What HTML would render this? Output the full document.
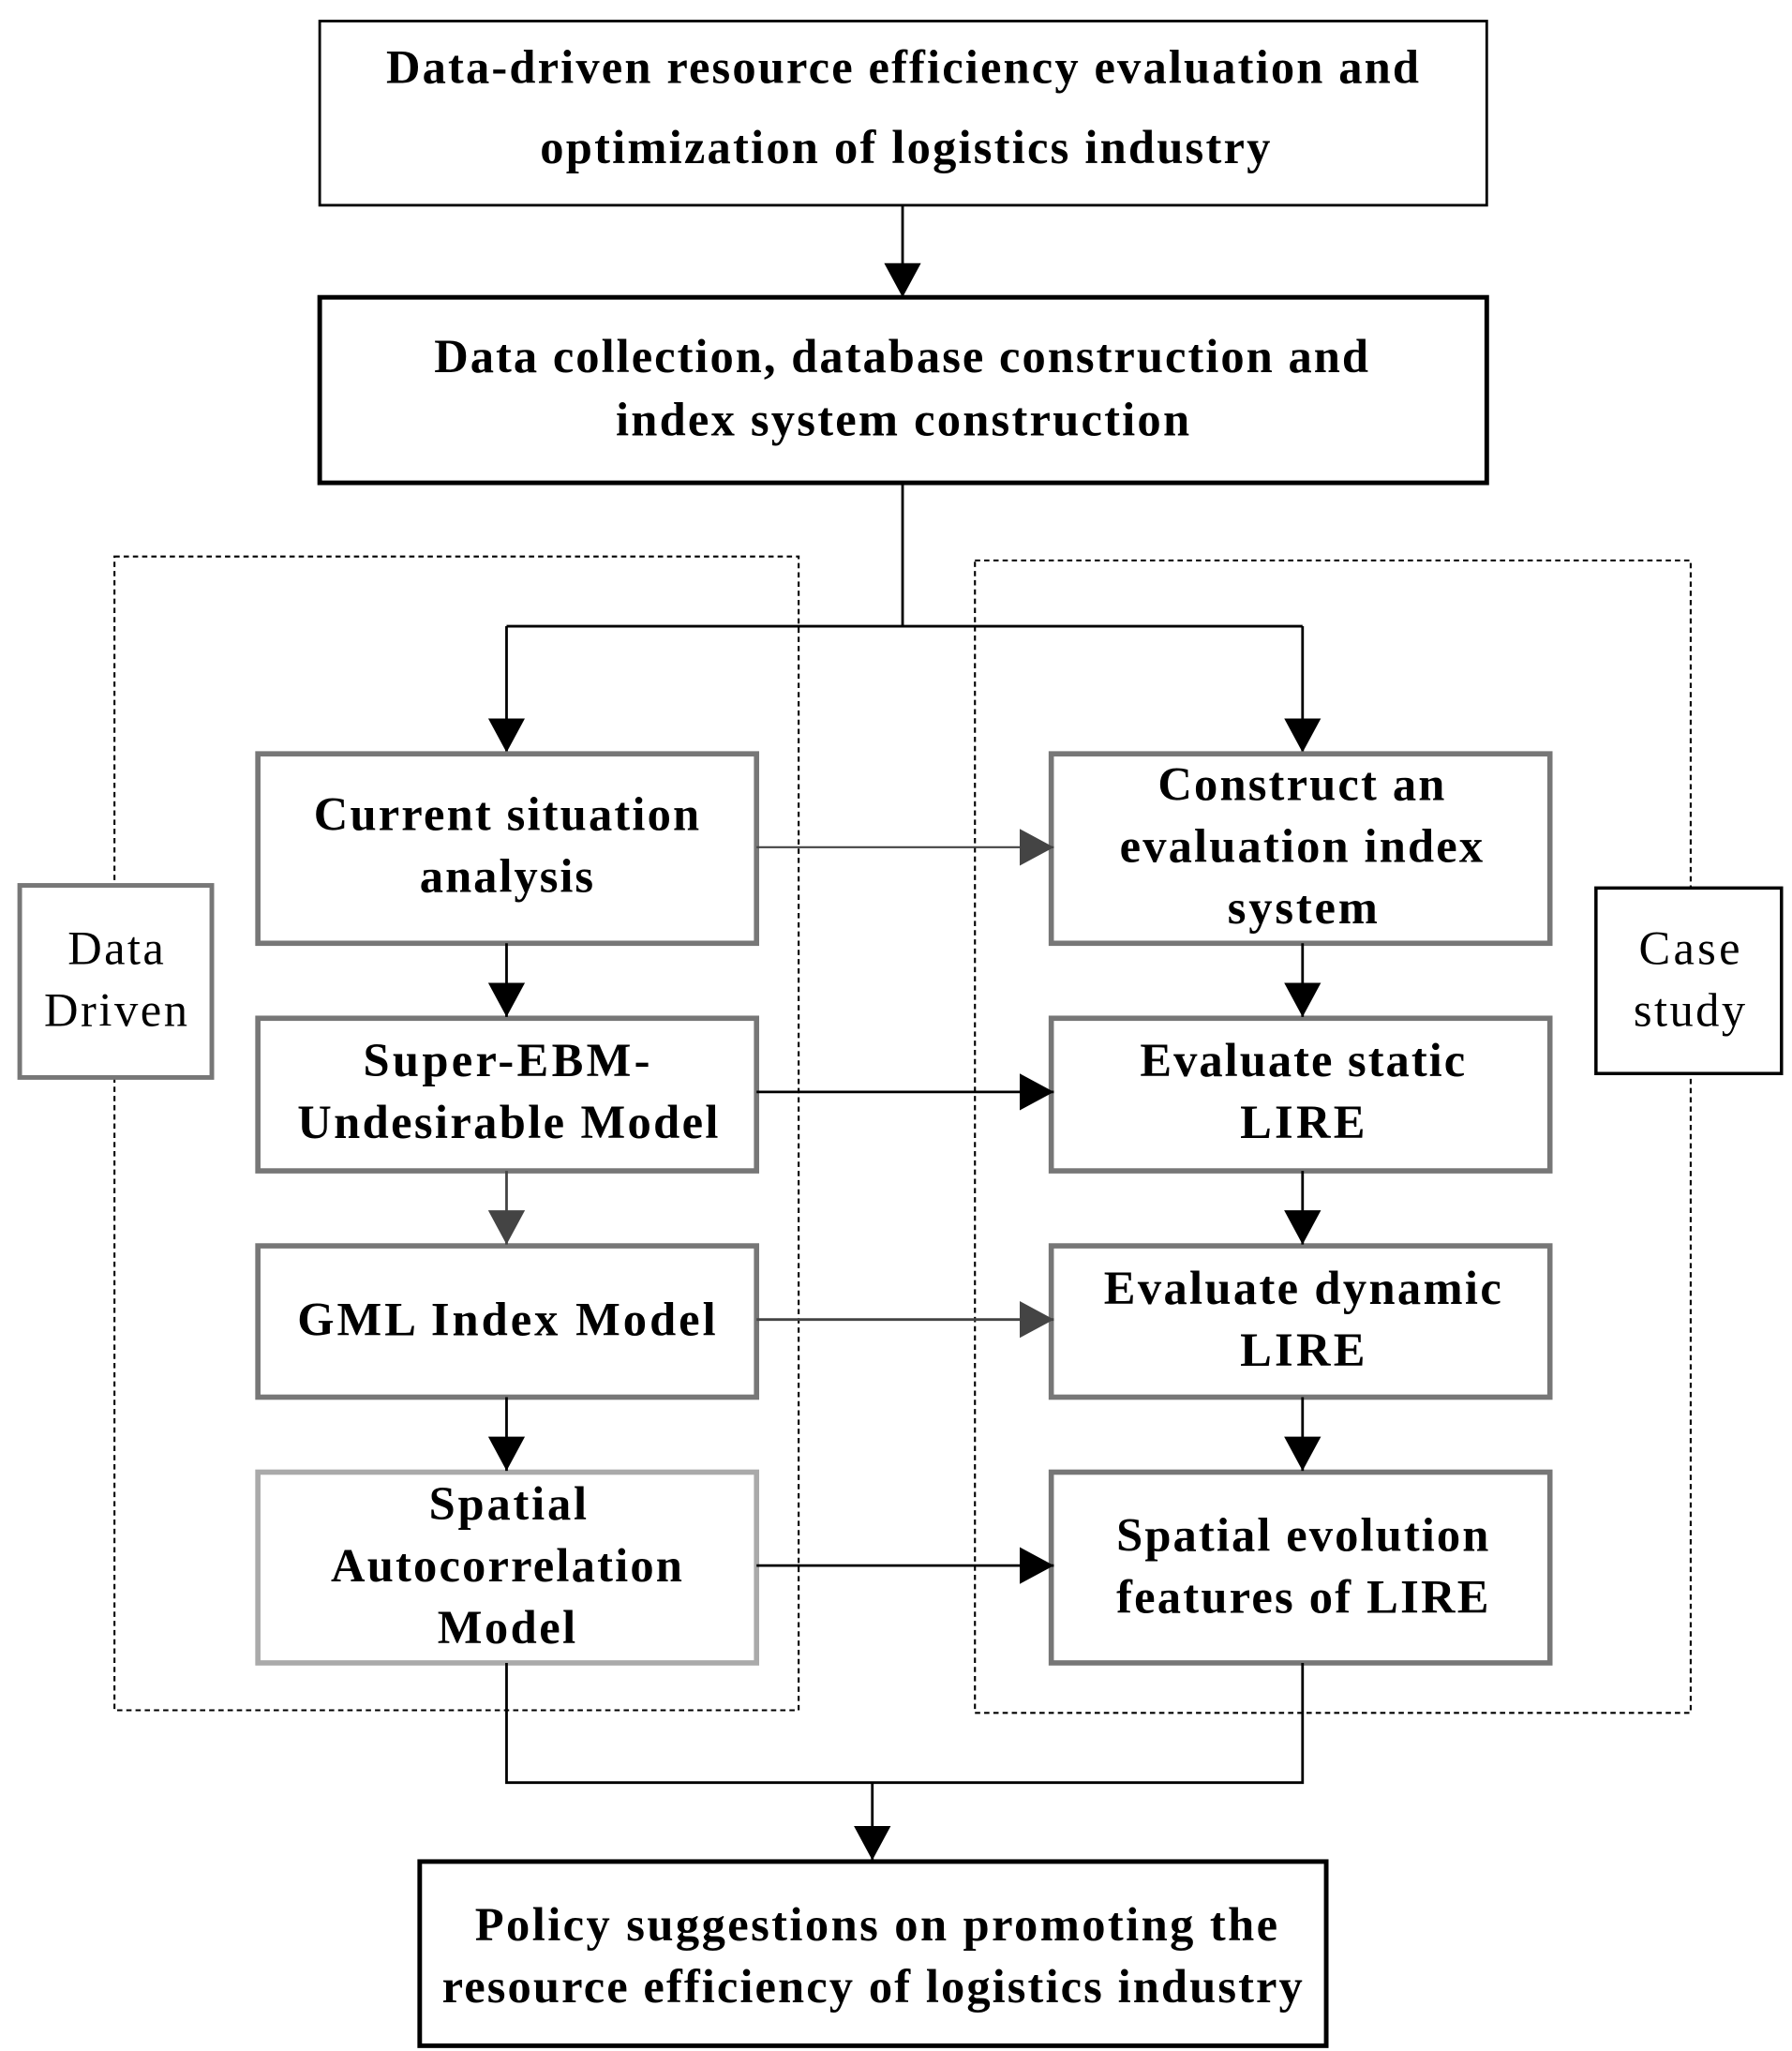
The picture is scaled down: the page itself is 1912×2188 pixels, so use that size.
<!DOCTYPE html>
<html><head><meta charset="utf-8"><style>html,body{margin:0;padding:0;background:#fff}svg{display:block}</style></head>
<body>
<svg width="1912" height="2188" viewBox="0 0 1362 1559" preserveAspectRatio="none" xmlns="http://www.w3.org/2000/svg">
<defs>
<marker id="b" markerWidth="26" markerHeight="28" refX="26" refY="14" orient="auto" markerUnits="userSpaceOnUse"><path d="M0,0 L26,14 L0,28 z" fill="#000"/></marker>
<marker id="g" markerWidth="26" markerHeight="28" refX="26" refY="14" orient="auto" markerUnits="userSpaceOnUse"><path d="M0,0 L26,14 L0,28 z" fill="#444"/></marker>
</defs>
<style>
text{font-family:"Liberation Serif",serif;font-size:36px;font-weight:bold;text-anchor:middle;fill:#000}
.n{font-weight:normal}
</style>
<rect x="87" y="423" width="520" height="877" fill="none" stroke="#000" stroke-width="1.5" stroke-dasharray="4,3"/>
<rect x="741" y="426" width="544" height="876" fill="none" stroke="#000" stroke-width="1.5" stroke-dasharray="4,3"/>
<rect x="243" y="16" width="887" height="140" fill="#fff" stroke="#000" stroke-width="2"/>
<text x="686" y="63" textLength="785" lengthAdjust="spacing">Data-driven resource efficiency evaluation and</text>
<text x="688" y="124" textLength="555" lengthAdjust="spacing">optimization of logistics industry</text>
<line x1="686" y1="156" x2="686" y2="226" stroke="#000" stroke-width="2" marker-end="url(#b)"/>
<rect x="243" y="226" width="887" height="141" fill="#fff" stroke="#000" stroke-width="3.5"/>
<text x="685" y="283" textLength="710" lengthAdjust="spacing">Data collection, database construction and</text>
<text x="686" y="331" textLength="436" lengthAdjust="spacing">index system construction</text>
<polyline points="686,367 686,476" fill="none" stroke="#000" stroke-width="2"/>
<line x1="385" y1="476" x2="990" y2="476" stroke="#000" stroke-width="2"/>
<line x1="385" y1="476" x2="385" y2="572" stroke="#000" stroke-width="2" marker-end="url(#b)"/>
<line x1="990" y1="476" x2="990" y2="572" stroke="#000" stroke-width="2" marker-end="url(#b)"/>
<rect x="15" y="673" width="146" height="146" fill="#fff" stroke="#777" stroke-width="3.5"/>
<text class="n" x="88" y="733" textLength="73" lengthAdjust="spacing">Data</text>
<text class="n" x="88" y="780" textLength="109" lengthAdjust="spacing">Driven</text>
<rect x="1213" y="675" width="141" height="141" fill="#fff" stroke="#000" stroke-width="2.5"/>
<text class="n" x="1284" y="733" textLength="77" lengthAdjust="spacing">Case</text>
<text class="n" x="1284" y="780" textLength="85" lengthAdjust="spacing">study</text>
<g fill="#fff" stroke="#777" stroke-width="4">
<rect x="196" y="573" width="379" height="144"/>
<rect x="196" y="774" width="379" height="116"/>
<rect x="196" y="947" width="379" height="115"/>
<rect x="196" y="1119" width="379" height="145" stroke="#aaa"/>
<rect x="799" y="573" width="379" height="144"/>
<rect x="799" y="774" width="379" height="116"/>
<rect x="799" y="947" width="379" height="115"/>
<rect x="799" y="1119" width="379" height="145"/>
</g>
<text x="385" y="631" textLength="293" lengthAdjust="spacing">Current situation</text>
<text x="385" y="678" textLength="132" lengthAdjust="spacing">analysis</text>
<text x="385" y="818" textLength="218" lengthAdjust="spacing">Super-EBM-</text>
<text x="386" y="865" textLength="320" lengthAdjust="spacing">Undesirable Model</text>
<text x="385" y="1015" textLength="318" lengthAdjust="spacing">GML Index Model</text>
<text x="386" y="1155" textLength="120" lengthAdjust="spacing">Spatial</text>
<text x="385" y="1202" textLength="267" lengthAdjust="spacing">Autocorrelation</text>
<text x="385" y="1249" textLength="105" lengthAdjust="spacing">Model</text>
<text x="989" y="608" textLength="218" lengthAdjust="spacing">Construct an</text>
<text x="989" y="655" textLength="276" lengthAdjust="spacing">evaluation index</text>
<text x="990" y="702" textLength="114" lengthAdjust="spacing">system</text>
<text x="990" y="818" textLength="247" lengthAdjust="spacing">Evaluate static</text>
<text x="990" y="865" textLength="95" lengthAdjust="spacing">LIRE</text>
<text x="990" y="991" textLength="302" lengthAdjust="spacing">Evaluate dynamic</text>
<text x="990" y="1038" textLength="95" lengthAdjust="spacing">LIRE</text>
<text x="990" y="1179" textLength="283" lengthAdjust="spacing">Spatial evolution</text>
<text x="990" y="1226" textLength="283" lengthAdjust="spacing">features of LIRE</text>
<line x1="385" y1="717" x2="385" y2="773" stroke="#000" stroke-width="2" marker-end="url(#b)"/>
<line x1="385" y1="890" x2="385" y2="946" stroke="#444" stroke-width="2" marker-end="url(#g)"/>
<line x1="385" y1="1062" x2="385" y2="1118" stroke="#000" stroke-width="2" marker-end="url(#b)"/>
<line x1="990" y1="717" x2="990" y2="773" stroke="#000" stroke-width="2" marker-end="url(#b)"/>
<line x1="990" y1="890" x2="990" y2="946" stroke="#000" stroke-width="2" marker-end="url(#b)"/>
<line x1="990" y1="1062" x2="990" y2="1118" stroke="#000" stroke-width="2" marker-end="url(#b)"/>
<line x1="575" y1="644" x2="801" y2="644" stroke="#444" stroke-width="1.5" marker-end="url(#g)"/>
<line x1="575" y1="830" x2="801" y2="830" stroke="#000" stroke-width="2" marker-end="url(#b)"/>
<line x1="575" y1="1003" x2="801" y2="1003" stroke="#444" stroke-width="2" marker-end="url(#g)"/>
<line x1="575" y1="1190" x2="801" y2="1190" stroke="#000" stroke-width="2" marker-end="url(#b)"/>
<polyline points="385,1264 385,1355 990,1355 990,1264" fill="none" stroke="#000" stroke-width="2"/>
<line x1="663" y1="1355" x2="663" y2="1414" stroke="#000" stroke-width="2" marker-end="url(#b)"/>
<rect x="319" y="1415" width="689" height="140" fill="#fff" stroke="#000" stroke-width="3.5"/>
<text x="666" y="1475" textLength="610" lengthAdjust="spacing">Policy suggestions on promoting the</text>
<text x="663" y="1522" textLength="654" lengthAdjust="spacing">resource efficiency of logistics industry</text>
</svg>
</body></html>
